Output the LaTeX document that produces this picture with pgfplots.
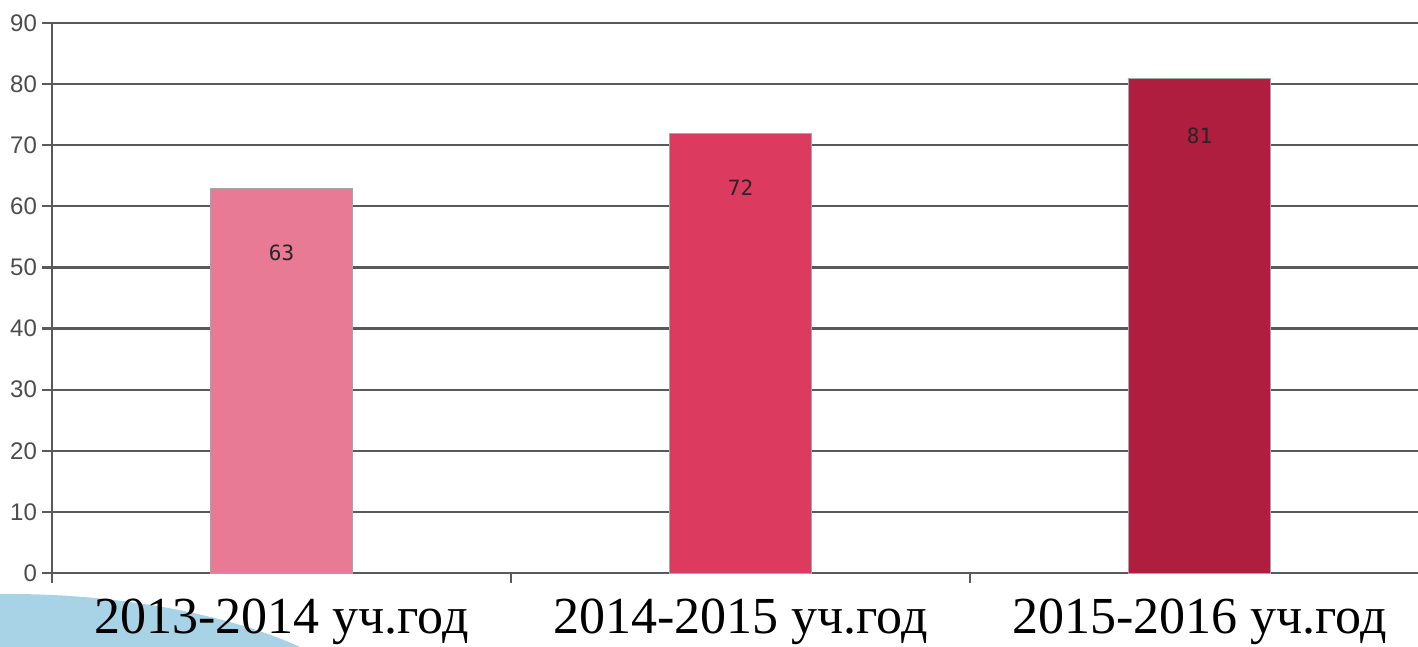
\documentclass[border=0pt]{standalone}
\usepackage{pgfplots}
\pgfplotsset{compat=1.18}
\usepackage{fontspec}
\setmainfont{Liberation Serif}
\newfontfamily\ticksf{Liberation Sans}
\newfontfamily\valf{DejaVu Sans Mono}
\definecolor{barA}{HTML}{E87A96}
\definecolor{barB}{HTML}{DC3A5E}
\definecolor{barC}{HTML}{AF1D3F}
\definecolor{swoosh}{HTML}{A8D3E6}
\definecolor{gridc}{HTML}{5A5A5A}
\begin{document}
\begin{tikzpicture}
\useasboundingbox (0,0) rectangle (709pt,323.5pt);
\fill[swoosh] (0,0) -- (0,26.5pt) .. controls (60pt,27pt) and (115pt,16pt) .. (150pt,0) -- cycle;
\begin{axis}[
  at={(26pt,37pt)}, anchor=south west,
  scale only axis,
  width=683pt, height=275pt,
  xmin=-0.5, xmax=2.476,
  ymin=0, ymax=90,
  ytick={0,10,...,90},
  axis x line=bottom, axis y line=left,
  axis line style={gridc, line width=1.1pt, -},
  tick align=outside,
  major tick length=5pt,
  tick style={gridc, line width=1.1pt},
  ymajorgrids,
  grid style={gridc, line width=1.1pt},
  xtick={-0.5,0.5,1.5},
  xticklabels={},
  extra x ticks={0,1,2},
  extra x tick labels={2013-2014 уч.год,2014-2015 уч.год,2015-2016 уч.год},
  extra x tick style={major tick length=0pt, xticklabel style={anchor=base, yshift=-30.5pt}},
  xticklabel style={font=\fontsize{26}{28}\selectfont, text=black},
  yticklabel style={font=\ticksf\fontsize{12}{13}\selectfont, text=black!70, xshift=1pt},
  /pgf/number format/assume math mode=true,
  clip=false,
]
\addplot[ybar, bar width=71pt, fill=barA, draw=black!35, line width=0.4pt,
  nodes near coords, every node near coord/.append style={anchor=center, yshift=-32.5pt, font=\valf\fontsize{10.5}{11}\selectfont, text=black!85}]
  coordinates {(0,63)};
\addplot[ybar, bar width=71pt, fill=barB, draw=black!35, line width=0.4pt,
  nodes near coords, every node near coord/.append style={anchor=center, yshift=-27.5pt, font=\valf\fontsize{10.5}{11}\selectfont, text=black!85}]
  coordinates {(1,72)};
\addplot[ybar, bar width=71pt, fill=barC, draw=black!35, line width=0.4pt,
  nodes near coords, every node near coord/.append style={anchor=center, yshift=-29pt, font=\valf\fontsize{10.5}{11}\selectfont, text=black!85}]
  coordinates {(2,81)};
\end{axis}
\end{tikzpicture}
\end{document}
